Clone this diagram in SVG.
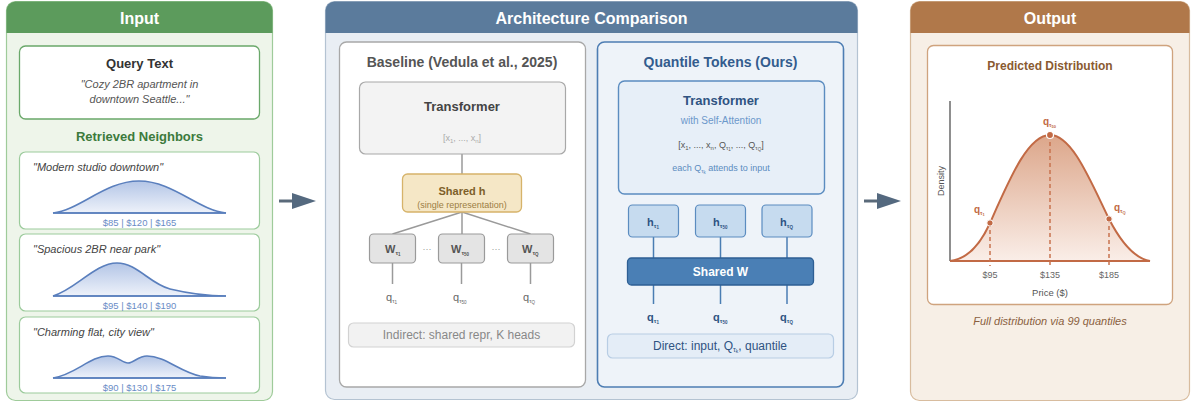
<svg xmlns="http://www.w3.org/2000/svg" width="1194" height="406" viewBox="0 0 1194 406">
<style>
text{font-family:"Liberation Sans",Arial,sans-serif}
.hdr{font-size:16px;font-weight:bold;fill:#fff;text-anchor:middle}
.c{text-anchor:middle}
.it{font-style:italic}
.nb{fill:#fff;stroke:#9ccb9c;stroke-width:1.2}
.nq{font-size:11px;font-style:italic;fill:#444}
.nl{font-size:9.5px;fill:#6a8cc6;text-anchor:middle}
.ncurve{fill:url(#gb);stroke:#5a7fbd;stroke-width:1.6}
.gbox{fill:#e4e4e4;stroke:#9a9a9a;stroke-width:1.2}
.gline{stroke:#9a9a9a;stroke-width:1.5;fill:none}
.hbox{fill:#c6dbef;stroke:#5b8cc0;stroke-width:1.2}
.bline{stroke:#4a7db3;stroke-width:1.5;fill:none}
.dash{stroke:#c8734f;stroke-width:1.5;stroke-dasharray:4 3;fill:none}
.tick{font-size:9px;fill:#666;text-anchor:middle}
.ql{font-size:10px;font-weight:bold;fill:#c26a45}
</style>
<defs>
<linearGradient id="gb" x1="0" y1="0" x2="0" y2="1"><stop offset="0" stop-color="#b3c5e6"/><stop offset="1" stop-color="#eef2fa"/></linearGradient>
<linearGradient id="go" x1="0" y1="0" x2="0" y2="1"><stop offset="0" stop-color="#dca68a"/><stop offset="1" stop-color="#faeee8"/></linearGradient>
</defs>

<g id="input-panel">
<rect x="6.5" y="1.5" width="266" height="399" rx="9" fill="#eef5ea" stroke="#9fcb9a" stroke-width="1.2"/>
<path d="M6.5,33 V10.5 a9,9 0 0 1 9,-9 H263.5 a9,9 0 0 1 9,9 V33 Z" fill="#5c9b5c"/>
<text class="hdr" x="139.5" y="24">Input</text>
</g>

<g id="query">
<rect x="19.5" y="46" width="240" height="73" rx="6" fill="#fff" stroke="#6aa86a" stroke-width="1.3"/>
<text class="c" x="139.5" y="68" font-size="13" font-weight="bold" fill="#333">Query Text</text>
<text class="c it" x="139.5" y="88" font-size="11" fill="#555">"Cozy 2BR apartment in</text>
<text class="c it" x="139.5" y="103" font-size="11" fill="#555">downtown Seattle..."</text>
</g>

<text class="c" x="139.5" y="141" font-size="13" font-weight="bold" fill="#3c7a3c">Retrieved Neighbors</text>

<g id="neighbor1">
<rect class="nb" x="19.5" y="152" width="240" height="77" rx="6"/>
<text class="nq" x="33" y="171">"Modern studio downtown"</text>
<path class="ncurve" d="M53,213 C80,210 105,181 139,181 C173,181 198,210 226,213 Z"/>
<line x1="53" y1="213" x2="226" y2="213" stroke="#5a7fbd" stroke-width="1.6"/>
<text class="nl" x="139.5" y="226">$85 | $120 | $165</text>
</g>

<g id="neighbor2">
<rect class="nb" x="19.5" y="234" width="240" height="77" rx="6"/>
<text class="nq" x="33" y="253">"Spacious 2BR near park"</text>
<path class="ncurve" d="M53,296 C75,290 95,263 117,263 C137,263 150,284 170,289 C195,295 210,296 226,296 Z"/>
<line x1="53" y1="296" x2="226" y2="296" stroke="#5a7fbd" stroke-width="1.6"/>
<text class="nl" x="139.5" y="309">$95 | $140 | $190</text>
</g>

<g id="neighbor3">
<rect class="nb" x="19.5" y="317" width="240" height="76" rx="6"/>
<text class="nq" x="33" y="336">"Charming flat, city view"</text>
<path class="ncurve" d="M53,378 C75,375 90,356 108,356 C118,356 122,363 128,363 C134,363 138,356 147,356 C165,356 180,372 200,376 C212,378 220,378 226,378 Z"/>
<line x1="53" y1="378" x2="226" y2="378" stroke="#5a7fbd" stroke-width="1.6"/>
<text class="nl" x="139.5" y="391">$90 | $130 | $175</text>
</g>

<g id="arch-panel">
<rect x="325.5" y="1.5" width="532" height="398" rx="9" fill="#e9eef4" stroke="#b4c3d2" stroke-width="1.2"/>
<path d="M325.5,33 V10.5 a9,9 0 0 1 9,-9 H848.5 a9,9 0 0 1 9,9 V33 Z" fill="#5b7b9c"/>
<text class="hdr" x="591.5" y="24">Architecture Comparison</text>
</g>

<g id="baseline">
<rect x="339.5" y="42" width="246" height="345" rx="7" fill="#fff" stroke="#a8a8a8" stroke-width="1.3"/>
<text class="c" x="462" y="67" font-size="14" font-weight="bold" fill="#555">Baseline (Vedula et al., 2025)</text>
</g>

<g id="ours">
<rect x="597.5" y="42" width="246" height="345" rx="7" fill="#eef3f9" stroke="#4d7db3" stroke-width="1.6"/>
<text class="c" x="720.5" y="67" font-size="14" font-weight="bold" fill="#335c8e">Quantile Tokens (Ours)</text>
</g>

<g id="output-panel">
<rect x="910.5" y="1.5" width="279" height="399" rx="9" fill="#f7efe6" stroke="#d8bc9e" stroke-width="1.2"/>
<path d="M910.5,33 V10.5 a9,9 0 0 1 9,-9 H1180.5 a9,9 0 0 1 9,9 V33 Z" fill="#b0784a"/>
<text class="hdr" x="1050" y="24">Output</text>
</g>

<g id="connectors">
<line x1="279" y1="201" x2="294" y2="201" stroke="#5a6a7a" stroke-width="3"/>
<polygon points="292,193 316,201 292,209" fill="#54697f"/>
<line x1="864" y1="201" x2="879" y2="201" stroke="#5a6a7a" stroke-width="3"/>
<polygon points="877,193 901,201 877,209" fill="#54697f"/>
<line class="gline" x1="462" y1="154" x2="462" y2="174"/>
<line class="gline" x1="462" y1="212" x2="392.5" y2="234"/>
<line class="gline" x1="462" y1="212" x2="462" y2="234"/>
<line class="gline" x1="462" y1="212" x2="530.5" y2="234"/>
<line class="gline" x1="392.5" y1="263" x2="392.5" y2="284"/>
<line class="gline" x1="461.5" y1="263" x2="461.5" y2="284"/>
<line class="gline" x1="530.5" y1="263" x2="530.5" y2="284"/>
<line class="bline" x1="653.5" y1="237" x2="653.5" y2="258"/>
<line class="bline" x1="720.5" y1="237" x2="720.5" y2="258"/>
<line class="bline" x1="787" y1="237" x2="787" y2="258"/>
<line class="bline" x1="653.5" y1="285" x2="653.5" y2="304"/>
<line class="bline" x1="720.5" y1="285" x2="720.5" y2="304"/>
<line class="bline" x1="787" y1="285" x2="787" y2="304"/>
</g>

<g id="baseline-transformer">
<rect x="359.5" y="82" width="206" height="72" rx="6" fill="#f3f3f3" stroke="#a8a8a8" stroke-width="1.2"/>
<text class="c" x="462" y="111" font-size="13" font-weight="bold" fill="#444">Transformer</text>
<text class="c" x="462" y="141" font-size="9" fill="#aaa">[x<tspan dy="2" font-size="6">1</tspan><tspan dy="-2">, ..., x</tspan><tspan dy="2" font-size="6">n</tspan><tspan dy="-2">]</tspan></text>
</g>

<g id="shared-h">
<rect x="402.5" y="174" width="119" height="38" rx="5" fill="#f5e7c6" stroke="#d6b36a" stroke-width="1.3"/>
<text class="c" x="462" y="195" font-size="11" font-weight="bold" fill="#7d5f2a">Shared h</text>
<text class="c" x="462" y="208" font-size="9" fill="#9c7e44">(single representation)</text>
</g>

<g id="w1">
<rect class="gbox" x="369.5" y="234" width="46" height="29" rx="4"/>
<text x="385" y="253" font-size="11" font-weight="bold" fill="#555">W<tspan dy="2" font-size="6">τ</tspan><tspan dy="1" font-size="4.5">1</tspan></text>
</g>
<g id="w50">
<rect class="gbox" x="438.5" y="234" width="46" height="29" rx="4"/>
<text x="451" y="253" font-size="11" font-weight="bold" fill="#555">W<tspan dy="2" font-size="6">τ</tspan><tspan dy="1" font-size="4.5">50</tspan></text>
</g>
<g id="wQ">
<rect class="gbox" x="507.5" y="234" width="46" height="29" rx="4"/>
<text x="522" y="253" font-size="11" font-weight="bold" fill="#555">W<tspan dy="2" font-size="6">τ</tspan><tspan dy="1" font-size="4.5">Q</tspan></text>
</g>
<text class="c" x="427" y="252" font-size="9" fill="#999">···</text>
<text class="c" x="496" y="252" font-size="9" fill="#999">···</text>

<g id="q-baseline">
<text x="386" y="301" font-size="11" fill="#666">q<tspan dy="2" font-size="6">τ</tspan><tspan dy="1" font-size="4.5">1</tspan></text>
<text x="453" y="301" font-size="11" fill="#666">q<tspan dy="2" font-size="6">τ</tspan><tspan dy="1" font-size="4.5">50</tspan></text>
<text x="523" y="301" font-size="11" fill="#666">q<tspan dy="2" font-size="6">τ</tspan><tspan dy="1" font-size="4.5">Q</tspan></text>
</g>

<g id="indirect">
<rect x="348.5" y="323" width="226" height="24" rx="5" fill="#f2f2f2" stroke="#d2d2d2" stroke-width="1.2"/>
<text class="c" x="461.5" y="339" font-size="12" fill="#888">Indirect: shared repr, K heads</text>
</g>

<g id="ours-transformer">
<rect x="618.5" y="81" width="206" height="113" rx="6" fill="#e7eff8" stroke="#5b8cc0" stroke-width="1.4"/>
<text class="c" x="721" y="105" font-size="13" font-weight="bold" fill="#2f5382">Transformer</text>
<text class="c" x="721" y="124" font-size="10" fill="#6c98cb">with Self-Attention</text>
<text class="c" x="721" y="148" font-size="9" fill="#555">[x<tspan dy="2" font-size="6">1</tspan><tspan dy="-2">, ..., x</tspan><tspan dy="2" font-size="6">n</tspan><tspan dy="-2">, Q</tspan><tspan dy="2" font-size="6">τ</tspan><tspan dy="1" font-size="4.5">1</tspan><tspan dy="-3">, ..., Q</tspan><tspan dy="2" font-size="6">τ</tspan><tspan dy="1" font-size="4.5">Q</tspan><tspan dy="-3">]</tspan></text>
<text class="c" x="721" y="171" font-size="9" fill="#5b8cc0">each Q<tspan dy="2" font-size="6">τ</tspan><tspan dy="1" font-size="4.5">k</tspan><tspan dy="-3"> attends to input</tspan></text>
</g>

<g id="h1">
<rect class="hbox" x="628.5" y="205" width="50" height="32" rx="4"/>
<text x="647" y="226" font-size="11" font-weight="bold" fill="#2f5382">h<tspan dy="2" font-size="6">τ</tspan><tspan dy="1" font-size="4.5">1</tspan></text>
</g>
<g id="h50">
<rect class="hbox" x="695.5" y="205" width="50" height="32" rx="4"/>
<text x="713" y="226" font-size="11" font-weight="bold" fill="#2f5382">h<tspan dy="2" font-size="6">τ</tspan><tspan dy="1" font-size="4.5">50</tspan></text>
</g>
<g id="hQ">
<rect class="hbox" x="762" y="205" width="50" height="32" rx="4"/>
<text x="780" y="226" font-size="11" font-weight="bold" fill="#2f5382">h<tspan dy="2" font-size="6">τ</tspan><tspan dy="1" font-size="4.5">Q</tspan></text>
</g>

<g id="shared-w">
<rect x="627.5" y="258" width="186" height="27" rx="4" fill="#4a7fb5" stroke="#2e5f94" stroke-width="1.3"/>
<text class="c" x="720.5" y="276" font-size="12" font-weight="bold" fill="#fff">Shared W</text>
</g>

<g id="q-ours">
<text x="647" y="321" font-size="11" font-weight="bold" fill="#2f5382">q<tspan dy="2" font-size="6">τ</tspan><tspan dy="1" font-size="4.5">1</tspan></text>
<text x="713" y="321" font-size="11" font-weight="bold" fill="#2f5382">q<tspan dy="2" font-size="6">τ</tspan><tspan dy="1" font-size="4.5">50</tspan></text>
<text x="780" y="321" font-size="11" font-weight="bold" fill="#2f5382">q<tspan dy="2" font-size="6">τ</tspan><tspan dy="1" font-size="4.5">Q</tspan></text>
</g>

<g id="direct">
<rect x="607.5" y="334" width="226" height="24" rx="5" fill="#e4edf7" stroke="#b8cde4" stroke-width="1.2"/>
<text class="c" x="720" y="350" font-size="12" fill="#2f5382">Direct: input, Q<tspan dy="2" font-size="7">τ</tspan><tspan dy="1" font-size="5">k</tspan><tspan dy="-3">, quantile</tspan></text>
</g>

<g id="predicted">
<rect x="927.5" y="45.5" width="245" height="259" rx="6" fill="#fff" stroke="#cfa37e" stroke-width="1.3"/>
<text class="c" x="1050" y="70" font-size="12" font-weight="bold" fill="#8a5a30">Predicted Distribution</text>
<line x1="950" y1="101" x2="950" y2="261" stroke="#444" stroke-width="1.2"/>
<path d="M950,261 C968,259 981,243 990,223 C1010,178 1028,135 1050,135 C1072,135 1090,180 1109,219 C1124,248 1138,259 1150,261 Z" fill="url(#go)" stroke="#c26a45" stroke-width="2"/>
<line x1="950" y1="261" x2="1150" y2="261" stroke="#c26a45" stroke-width="2.2"/>
<line class="dash" x1="990" y1="223" x2="990" y2="266"/>
<line class="dash" x1="1050" y1="135" x2="1050" y2="266"/>
<line class="dash" x1="1109" y1="219" x2="1109" y2="266"/>
<circle cx="990" cy="223" r="3.2" fill="#c26a45" stroke="#fff" stroke-width="1"/>
<circle cx="1050" cy="135" r="3.5" fill="#c26a45" stroke="#fff" stroke-width="1.2"/>
<circle cx="1109" cy="219" r="3.2" fill="#c26a45" stroke="#fff" stroke-width="1"/>
<text class="ql" x="1043" y="125">q<tspan dy="2" font-size="5.5">τ</tspan><tspan dy="1" font-size="4">50</tspan></text>
<text class="ql" x="974" y="213">q<tspan dy="2" font-size="5.5">τ</tspan><tspan dy="1" font-size="4">1</tspan></text>
<text class="ql" x="1114" y="211">q<tspan dy="2" font-size="5.5">τ</tspan><tspan dy="1" font-size="4">Q</tspan></text>
<text class="tick" x="990" y="278">$95</text>
<text class="tick" x="1050" y="278">$135</text>
<text class="tick" x="1109" y="278">$185</text>
<text class="c" x="1050" y="296" font-size="9.5" fill="#555">Price ($)</text>
<text class="c" transform="translate(944,181) rotate(-90)" font-size="9" fill="#555">Density</text>
</g>

<text class="c it" x="1050" y="325" font-size="11" fill="#8a6040">Full distribution via 99 quantiles</text>
</svg>
